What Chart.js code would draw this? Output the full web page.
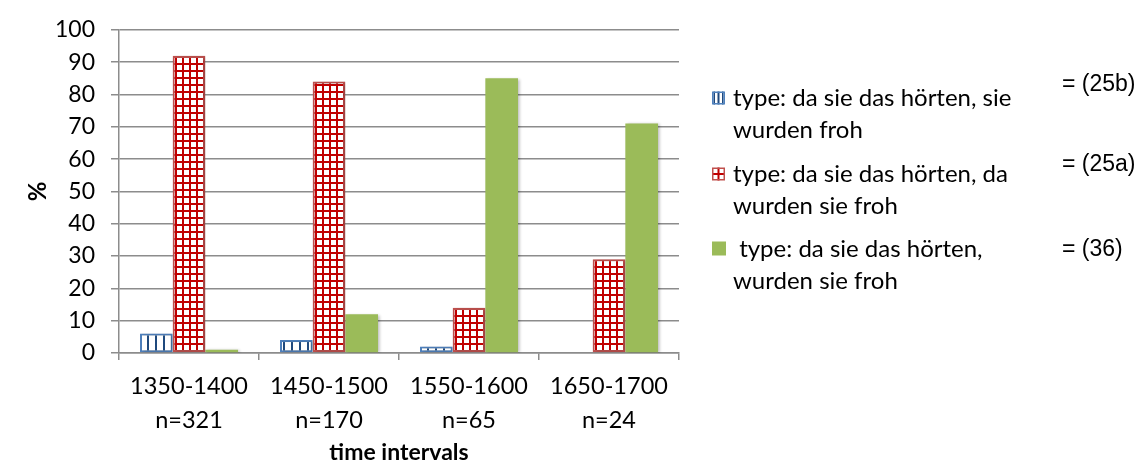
<!DOCTYPE html>
<html>
<head>
<meta charset="utf-8">
<script src="https://cdn.jsdelivr.net/npm/chart.js@4/dist/chart.umd.min.js"></script>
<style>
  html, body { margin: 0; padding: 0; background: #ffffff; }
  #wrap { position: relative; width: 1147px; height: 464px; }
</style>
</head>
<body>
<div id="wrap"><canvas id="c" width="1147" height="464"></canvas></div>
<script>
// Time intervals and corpus sizes (two-line category labels)
const intervals = ['1350-1400', '1450-1500', '1550-1600', '1650-1700'];
const sampleSizes = ['n=321', 'n=170', 'n=65', 'n=24'];

// Share of each construction type per interval, in %
const type25b = [6, 4, 2, 0];
const type25a = [92, 84, 14, 29];
const type36 = [1, 12, 85, 71];

// Legend text, already split into its lines, and the example numbers
const seriesNames = [
  ['type: da sie das hörten, sie', 'wurden froh'],
  ['type: da sie das hörten, da', 'wurden sie froh'],
  [' type: da sie das hörten,', 'wurden sie froh']
];
const seriesRefs = ['= (25b)', '= (25a)', '= (36)'];

const FONT = 'Lato, "Open Sans", sans-serif';
const BLUE_LINE = '#1f497d', BLUE_EDGE = '#4f81bd';
const RED_LINE = '#c00000', RED_EDGE = '#c0504d';
const GREEN = '#9bbb59';

// Fill patterns: vertical stripes and a square grid
function makePattern(size, paint) {
  const c = document.createElement('canvas');
  c.width = size; c.height = size;
  const g = c.getContext('2d');
  g.fillStyle = '#ffffff';
  g.fillRect(0, 0, size, size);
  paint(g);
  return g.createPattern(c, 'repeat');
}
const stripes = makePattern(8, g => { g.fillStyle = BLUE_LINE; g.fillRect(3, 0, 2, 8); });
const grid = makePattern(7, g => {
  g.fillStyle = RED_LINE;
  g.fillRect(0, 0, 2, 7);
  g.fillRect(0, 0, 7, 2);
});

// Soft shadow behind the bars
const barShadow = {
  id: 'barShadow',
  beforeDatasetsDraw(chart) {
    const ctx = chart.ctx;
    ctx.save();
    ctx.shadowColor = 'rgba(0,0,0,0.28)';
    ctx.shadowBlur = 3;
    ctx.shadowOffsetX = 1.5;
    ctx.shadowOffsetY = 0.5;
  },
  afterDatasetsDraw(chart) { chart.ctx.restore(); }
};

// Legend on the right with wrapped labels and example numbers
const sideLegend = {
  id: 'sideLegend',
  afterDraw(chart) {
    const ctx = chart.ctx;
    const swX = 712, sw = 13, textX = 733, lineGap = 32;
    const firstLineY = [98, 174, 249];
    const refY = [85, 165, 250];
    ctx.save();
    chart.data.datasets.forEach((ds, i) => {
      const y0 = firstLineY[i];
      const top = y0 - sw / 2;
      // swatch
      if (i === 0) {
        ctx.fillStyle = '#fff';
        ctx.fillRect(swX, top, sw, sw);
        ctx.fillStyle = BLUE_LINE;
        ctx.fillRect(swX + 5.5, top, 2, sw);
        ctx.fillRect(swX + 1.5, top, 1.5, sw);
        ctx.fillRect(swX + sw - 3, top, 1.5, sw);
        ctx.strokeStyle = BLUE_EDGE; ctx.lineWidth = 1.5;
        ctx.strokeRect(swX + 0.75, top + 0.75, sw - 1.5, sw - 1.5);
      } else if (i === 1) {
        ctx.fillStyle = '#fff';
        ctx.fillRect(swX, top, sw, sw);
        ctx.fillStyle = RED_LINE;
        ctx.fillRect(swX + 5.5, top, 2, sw);
        ctx.fillRect(swX, top + 5.5, sw, 2);
        ctx.strokeStyle = RED_EDGE; ctx.lineWidth = 1.5;
        ctx.strokeRect(swX + 0.75, top + 0.75, sw - 1.5, sw - 1.5);
      } else {
        ctx.fillStyle = GREEN;
        ctx.fillRect(swX, top - 1, sw + 1, sw + 1);
      }
      // label lines
      ctx.fillStyle = '#000';
      ctx.font = '24px ' + FONT;
      ctx.textBaseline = 'middle';
      ctx.textAlign = 'left';
      seriesNames[i].forEach((line, k) => {
        ctx.fillText(line, textX, y0 + k * lineGap);
      });
      // example number
      ctx.font = '23px "Liberation Sans", Arial, sans-serif';
      ctx.fillText(seriesRefs[i], 1062, refY[i]);
    });
    ctx.restore();
  }
};

new Chart(document.getElementById('c'), {
  type: 'bar',
  data: {
    labels: intervals.map((t, i) => [t, sampleSizes[i]]),
    datasets: [
      { label: seriesNames[0].join(' ').trim(), data: type25b, backgroundColor: stripes,
        borderColor: BLUE_EDGE, borderWidth: 2, borderSkipped: false },
      { label: seriesNames[1].join(' ').trim(), data: type25a, backgroundColor: grid,
        borderColor: RED_EDGE, borderWidth: 2, borderSkipped: false },
      { label: seriesNames[2].join(' ').trim(), data: type36, backgroundColor: GREEN,
        borderWidth: 0 }
    ]
  },
  options: {
    responsive: false,
    animation: false,
    events: [],
    layout: { padding: { left: 0, top: 24, right: 468, bottom: 0 } },
    datasets: { bar: { categoryPercentage: 0.7, barPercentage: 1 } },
    plugins: { legend: { display: false }, tooltip: { enabled: false } },
    scales: {
      x: {
        afterFit(scale) { scale.height = 111; },
        grid: { offset: true, drawOnChartArea: false, drawTicks: true, tickLength: 7,
                color: '#8c8c8c', lineWidth: 1.5 },
        border: { color: '#8c8c8c', width: 1.5 },
        ticks: { color: '#000', padding: 10, font: { family: FONT, size: 23.5, lineHeight: 1.42 } },
        title: { display: true, text: 'time intervals', color: '#000', padding: 0,
                 font: { family: FONT, size: 23, weight: 'bold', lineHeight: 1 } }
      },
      y: {
        min: 0, max: 100,
        afterFit(scale) { scale.width = 119; },
        grid: { color: '#8c8c8c', lineWidth: 1.5, tickLength: 8 },
        border: { color: '#8c8c8c', width: 1.5 },
        ticks: { stepSize: 10, color: '#000', padding: 16, font: { family: FONT, size: 23 } },
        title: { display: true, text: '%', color: '#000', padding: { top: 24, bottom: 0 },
                 font: { family: FONT, size: 24, weight: 'bold', lineHeight: 1.2 } }
      }
    }
  },
  plugins: [barShadow, sideLegend]
});
</script>
</body>
</html>
